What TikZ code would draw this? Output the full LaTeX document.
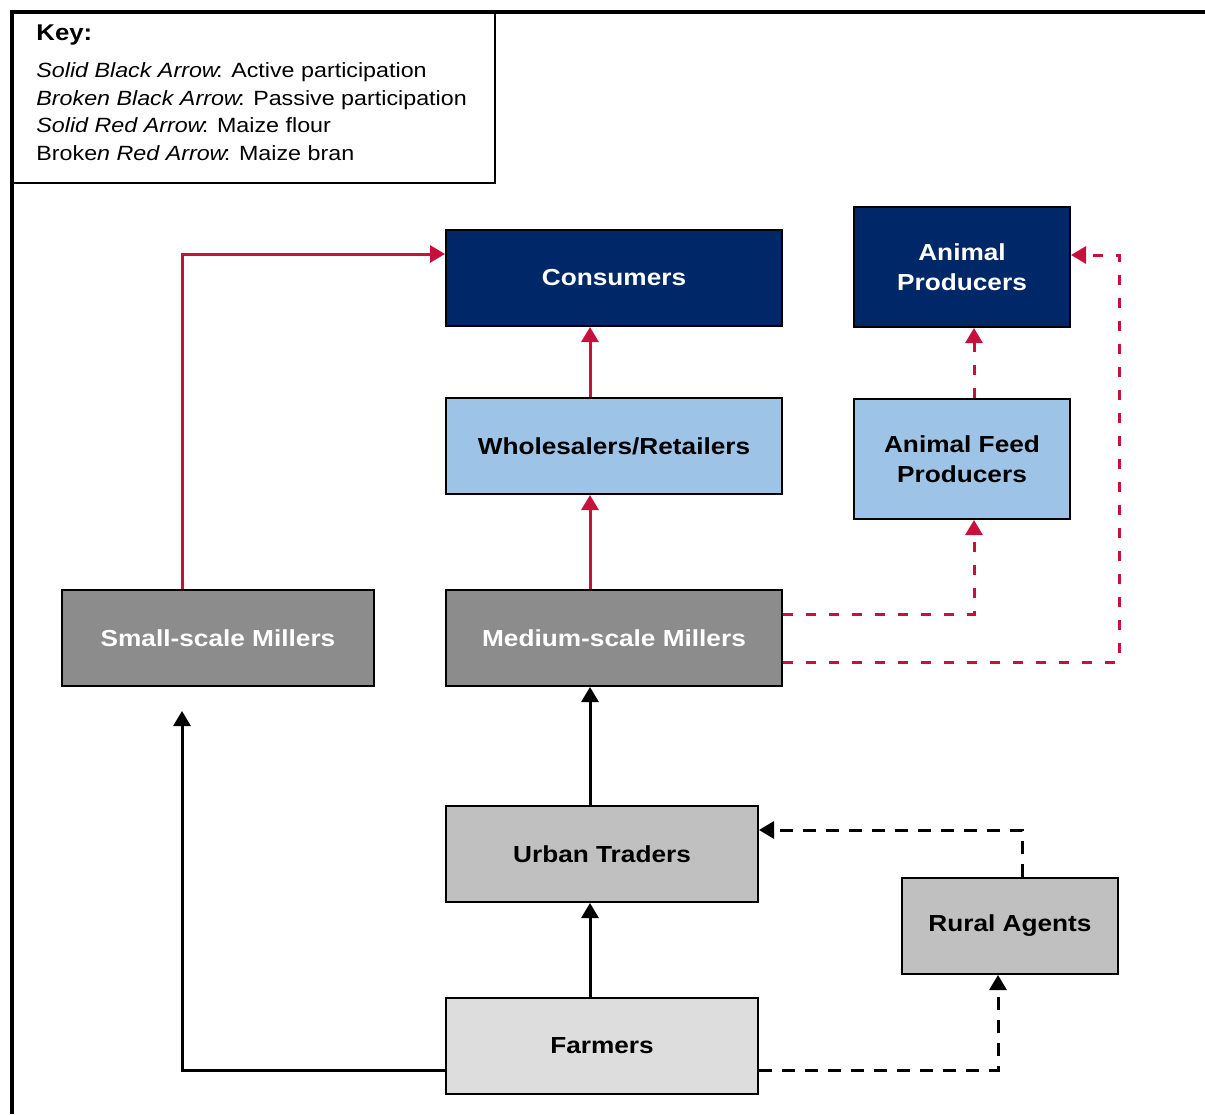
\documentclass[tikz,border=0pt]{standalone}
\usepackage{fontspec}
\setmainfont{Liberation Sans}[FakeStretch=1.13]
\usetikzlibrary{positioning,arrows.meta}

\definecolor{navyblue}{RGB}{0,40,104}
\definecolor{paleblue}{RGB}{157,195,230}
\definecolor{midgrey}{RGB}{140,140,140}
\definecolor{silvergrey}{RGB}{192,192,192}
\definecolor{lightgrey}{RGB}{221,221,221}
\definecolor{flourred}{RGB}{200,16,60}

\newcommand{\keycolon}{\kern-1.3pt:}

\tikzset{
	actor/.style={draw=black, line width=1pt, inner sep=0pt, align=center,
		font=\bfseries\fontsize{11.6}{15}\selectfont,
		minimum width=168pt, minimum height=48pt},
	consumer/.style={actor, fill=navyblue, text=white},
	processor/.style={actor, fill=paleblue},
	miller/.style={actor, fill=midgrey, text=white},
	trader/.style={actor, fill=silvergrey},
	grower/.style={actor, fill=lightgrey},
	flow/.style={line width=1.5pt, -{Triangle[length=7.5pt,width=8.5pt]}},
	active/.style={flow, black},
	passive/.style={flow, black, dash pattern=on 6.5pt off 5pt},
	flour/.style={flow, flourred},
	bran/.style={flow, flourred, dash pattern=on 5pt off 6.5pt},
}

\begin{document}
\begin{tikzpicture}[x=0.5pt, y=-0.5pt]
		\useasboundingbox (0,0) rectangle (1205,1114);
		
		\draw [line width=2pt] (1205,12) -- (12,12) -- (12,1114);
		\node [draw, line width=1pt, inner sep=0pt, anchor=north west,
			minimum width=241pt, minimum height=85pt] (key) at (12,12) {};
		\node [anchor=north west, inner sep=0pt, align=left,
			font=\fontsize{10.3}{13.75}\selectfont] (keytext) at (36,24)
			{{\bfseries\fontsize{11.4}{13.75}\selectfont Key:}\\[5pt]
			{\itshape Solid Black Arrow}\keycolon{} Active participation\\
			{\itshape Broken Black Arrow}\keycolon{} Passive participation\\
			{\itshape Solid Red Arrow}\keycolon{} Maize flour\\
			Broke{\itshape n Red Arrow}\keycolon{} Maize bran};
		
		\node [consumer] (cons) at (614,278) {Consumers};
		\node [consumer, minimum width=108pt, minimum height=60pt] (ap) at (962,267) {Animal\\Producers};
		\node [processor] (wr) at (614,446) {Wholesalers/Retailers};
		\node [processor, minimum width=108pt, minimum height=60pt] (afp) at (962,459) {Animal Feed\\Producers};
		\node [miller, minimum width=156pt] (ssm) at (218,638) {Small-scale Millers};
		\node [miller] (msm) at (614,638) {Medium-scale Millers};
		\node [trader, minimum width=156pt] (ut) at (602,854) {Urban Traders};
		\node [trader, minimum width=108pt] (ra) at (1010,926) {Rural Agents};
		\node [grower, minimum width=156pt] (farm) at (602,1046) {Farmers};
		
		\draw [flour] ([xshift=-18pt]ssm.north) |- ([yshift=12pt]cons.west);
		\draw [flour] ([xshift=-12pt]msm.north) -- ([xshift=-12pt]wr.south);
		\draw [flour] ([xshift=-12pt]wr.north) -- ([xshift=-12pt]cons.south);
		\draw [bran] ([xshift=6pt]afp.north) -- ([xshift=6pt]ap.south);
		\draw [bran] ([yshift=12pt]msm.east) -| ([xshift=6pt]afp.south);
		\draw [bran] ([yshift=-12pt]msm.east) -| ([xshift=24pt,yshift=6pt]ap.east) -- ([yshift=6pt]ap.east);
		\draw [active] ([yshift=-12pt]farm.west) -| ([xshift=-18pt,yshift=-12pt]ssm.south);
		\draw [active] ([xshift=-6pt]farm.north) -- ([xshift=-6pt]ut.south);
		\draw [active] ([xshift=-6pt]ut.north) -- ([xshift=-12pt]msm.south);
		\draw [passive] ([xshift=6pt]ra.north) |- ([yshift=12pt]ut.east);
		\draw [passive] ([yshift=-12pt]farm.east) -| ([xshift=-6pt]ra.south);
\end{tikzpicture}
\end{document}
